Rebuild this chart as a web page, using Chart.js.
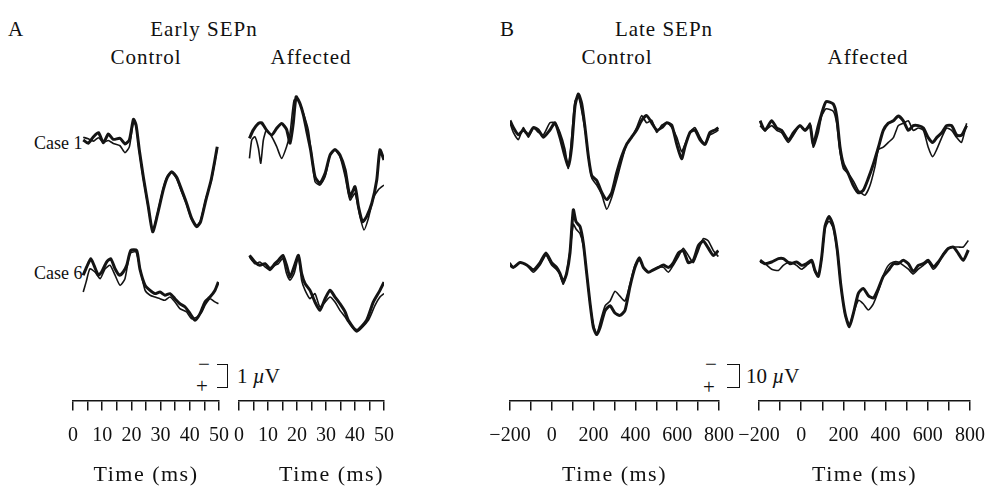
<!DOCTYPE html>
<html>
<head>
<meta charset="utf-8">
<script src="https://cdn.jsdelivr.net/npm/chart.js@4.4.1/dist/chart.umd.min.js"></script>
<style>
  body { margin: 0; background: #fff; }
  #fig { position: relative; width: 996px; height: 488px; overflow: hidden; }
  #fig canvas { position: absolute; }
  .t { position: absolute; font-family: 'Liberation Serif', 'Times New Roman', serif; font-size: 21px;
       line-height: 1; color: #111; white-space: nowrap; }
  .c { transform: translateX(-50%); letter-spacing: 1px; }
  .case { font-size: 18px; }
  .bar { position: absolute; border: 1.5px solid #111; border-left: none; }
</style>
</head>
<body>
<div id="fig">
  <div class="t" style="left:8px;top:19px">A</div>
  <div class="t c" style="left:204px;top:19px">Early SEPn</div>
  <div class="t c" style="left:146px;top:47px">Control</div>
  <div class="t c" style="left:311px;top:47px">Affected</div>
  <div class="t case" style="left:34px;top:134px">Case 1</div>
  <div class="t case" style="left:34px;top:264px">Case 6</div>
  <div class="t" style="left:500px;top:19px">B</div>
  <div class="t c" style="left:664px;top:19px">Late SEPn</div>
  <div class="t c" style="left:617px;top:47px">Control</div>
  <div class="t c" style="left:868px;top:47px">Affected</div>

  <div class="t" style="left:198px;top:354px">−</div>
  <div class="t" style="left:196px;top:376px">+</div>
  <div class="bar" style="left:217px;top:364px;width:10px;height:22px"></div>
  <div class="t" style="left:237px;top:366px">1 <i>µ</i>V</div>

  <div class="t" style="left:705px;top:354px">−</div>
  <div class="t" style="left:703px;top:377px">+</div>
  <div class="bar" style="left:727px;top:364px;width:12px;height:22px"></div>
  <div class="t" style="left:746px;top:366px">10 <i>µ</i>V</div>

  <canvas id="earlyControl"></canvas>
  <canvas id="earlyAffected"></canvas>
  <canvas id="lateControl"></canvas>
  <canvas id="lateAffected"></canvas>
</div>
<script>
// tick labels
const earlyTicks = [0, 10, 20, 30, 40, 50];
const lateTicks = [-200, 0, 200, 400, 600, 800];

// [time (ms), amplitude (uV, negative up)]
const earlyControlCase1Thick = [[3.5,0],[5.2,0.14],[7.0,-0.14],[8.7,-0.32],[10.4,0.12],[12.1,-0.26],[13.8,-0.03],[16.1,-0.07],[17.8,0.17],[19.3,0],[20.7,-0.9],[21.6,-0.65],[22.7,0.43],[24.1,1.62],[25.8,2.9],[27.3,3.99],[28.9,3.26],[30.9,2.17],[32.3,1.62],[33.8,1.38],[35.5,1.62],[37.2,2.17],[38.9,2.75],[40.6,3.4],[42.4,3.77],[43.7,3.55],[45.5,2.61],[47.3,1.74],[48.6,0.87],[49.4,0.29]];
const earlyControlCase1Thin = [[3.5,-0.12],[5.2,-0.05],[7.0,0.05],[8.7,-0.1],[10.4,0.1],[12.1,0.02],[13.8,0.15],[16.1,0.25],[17.8,0.55],[19.3,0.3],[20.7,-0.8],[21.6,-0.6],[22.7,0.5],[24.1,1.7],[25.8,2.95],[27.3,3.95],[28.9,3.2],[30.9,2.1],[32.3,1.58],[33.8,1.4],[35.5,1.68],[37.2,2.25],[38.9,2.8],[40.6,3.45],[42.4,3.72],[43.7,3.5],[45.5,2.55],[47.3,1.8],[48.6,0.95],[49.4,0.35]];
const earlyAffectedCase1Thick = [[3.6,-0.07],[4.9,-0.43],[6.7,-0.72],[7.8,-0.75],[9.5,-0.43],[11.3,-0.22],[13.0,-0.51],[14.7,-0.72],[16.4,-0.46],[17.6,0.14],[18.7,-0.72],[19.7,-1.88],[21.0,-1.59],[22.2,-1.09],[23.3,-0.43],[24.7,0.43],[26.2,1.59],[27.9,1.88],[29.7,1.45],[31.4,0.65],[33.1,0.41],[34.8,0.65],[36.6,1.3],[38.3,2.46],[40.0,2.03],[41.2,2.9],[42.6,3.55],[44.0,3.33],[45.8,2.75],[47.5,1.74],[48.6,0.43],[50.0,0.87]];
const earlyAffectedCase1Thin = [[3.6,0.8],[4.4,0],[5.5,-0.14],[6.7,0.36],[7.5,1.01],[8.4,0],[9.5,-0.43],[11.3,-0.14],[13.0,0.29],[14.7,0.8],[16.4,0.29],[17.6,-0.29],[19.0,-1.74],[20.5,-1.74],[22.2,-1.16],[23.9,-0.43],[25.1,0.72],[26.2,1.81],[27.9,1.96],[29.7,1.59],[31.4,0.65],[33.1,0.43],[34.8,0.72],[36.6,1.59],[38.3,2.61],[40.0,2.32],[41.7,3.33],[43.1,3.91],[44.6,3.41],[46.3,2.54],[48.0,2.17],[50.0,1.96]];
const earlyControlCase6Thick = [[3.5,0.14],[4.7,-0.22],[6.1,-0.58],[7.2,-0.29],[8.7,0.14],[9.8,0],[11.5,-0.43],[12.9,-0.58],[14.4,-0.14],[15.9,0.14],[17.2,0],[18.4,-0.29],[19.8,-0.94],[21.8,-0.94],[22.9,-0.14],[24.7,0.58],[26.4,0.8],[28.1,0.94],[29.8,0.87],[31.5,1.01],[33.2,0.94],[34.9,1.16],[36.6,1.38],[38.4,1.52],[40.1,1.81],[41.8,2.1],[43.5,1.81],[45.2,1.3],[46.9,1.09],[48.6,0.8],[49.8,0.43]];
const earlyControlCase6Thin = [[3.5,0.87],[4.5,0.43],[5.8,-0.14],[7.5,0],[9.3,0.29],[11.0,-0.14],[12.7,-0.29],[14.4,0.14],[16.1,0.58],[17.8,0.29],[19.5,-0.8],[21.6,-0.87],[23.2,0],[24.7,0.8],[26.4,1.01],[28.1,1.09],[29.8,1.16],[31.5,1.23],[33.2,1.09],[34.9,1.3],[36.6,1.59],[38.9,1.74],[40.6,2.03],[42.4,1.96],[44.1,1.74],[45.2,1.45],[46.9,1.16],[48.6,1.3],[49.8,1.38]];
const earlyAffectedCase6Thick = [[3.6,-0.07],[5.5,0.22],[7.2,0.36],[9.0,0.29],[10.7,0.51],[12.4,0.29],[13.6,0.14],[15.1,-0.07],[16.4,0.36],[17.6,0.87],[19.0,0.43],[20.5,-0.07],[21.6,0.72],[22.8,1.16],[24.5,1.45],[26.2,1.96],[27.9,2.32],[29.7,1.81],[31.4,1.45],[33.1,1.74],[34.8,2.03],[36.6,2.39],[37.7,2.75],[40.6,3.19],[44.0,2.75],[46.3,1.96],[48.6,1.45],[50.0,1.09]];
const earlyAffectedCase6Thin = [[3.6,0],[5.5,0.29],[7.2,0.22],[9.0,0.43],[10.7,0.58],[12.4,0.36],[13.6,0.29],[15.1,0.07],[16.4,0.72],[17.6,1.01],[19.0,0.72],[20.5,0],[21.6,1.01],[22.8,1.45],[24.5,1.81],[26.2,1.59],[27.9,2.17],[29.7,1.96],[31.4,1.74],[33.1,1.96],[34.8,2.32],[36.6,2.61],[37.7,2.83],[40.6,3.26],[44.6,2.75],[46.9,2.1],[48.6,1.74],[50.0,1.59]];

const lateControlCase1Thick = [[-200,-4],[-184,-1],[-160,2],[-136,0],[-112,2],[-88,-1],[-64,0],[-40,3],[-9,0],[15,-3],[39,3],[63,11],[79,15],[95,7],[111,-10],[127,-15],[143,-11],[159,-1],[175,11],[191,19],[215,21],[239,26],[263,29],[287,26],[310,18],[334,11],[358,6],[382,3],[406,0],[430,-4],[454,-6],[478,-3],[502,0],[526,-1],[550,-3],[574,-2],[598,6],[621,12],[637,7],[661,1],[685,0],[709,4],[733,6],[757,1],[781,0],[797,-1]];
const lateControlCase1Thin = [[-200,-3],[-184,1],[-160,4],[-136,-1],[-112,3],[-88,-1],[-64,1],[-40,2],[-9,-3],[15,-3],[39,1],[63,8],[79,16],[95,3],[111,-12],[127,-14],[143,-8],[159,0],[175,11],[191,20],[215,23],[239,27],[263,33],[287,28],[310,21],[334,13],[358,6],[382,3],[406,-1],[430,-6],[454,-3],[478,-4],[502,1],[526,-2],[550,-3],[574,-1],[598,3],[621,9],[637,6],[661,1],[685,-1],[709,3],[733,6],[757,2],[781,1],[797,0]];
const lateAffectedCase1Thick = [[-195,-3],[-172,1],[-140,-3],[-116,0],[-93,1],[-61,5],[-37,2],[-6,-1],[18,1],[42,-1],[57,7],[81,-1],[97,-6],[118,-11],[152,-10],[168,-5],[184,8],[200,15],[223,19],[247,24],[271,27],[294,26],[318,21],[342,15],[366,8],[389,1],[413,-2],[437,-3],[460,-5],[484,-3],[508,1],[531,-1],[555,-1],[579,0],[602,4],[623,6],[642,4],[666,2],[689,-1],[713,-1],[737,3],[760,3],[784,-1]];
const lateAffectedCase1Thin = [[-195,-1],[-172,1],[-140,-1],[-116,1],[-93,2],[-61,6],[-37,3],[-6,-1],[18,1],[42,-2],[57,8],[81,2],[97,-5],[118,-8],[152,-7],[168,-2],[184,10],[200,17],[223,19],[247,22],[271,26],[302,28],[326,24],[350,16],[366,9],[389,8],[413,6],[437,4],[460,-1],[484,-2],[508,-3],[531,1],[555,0],[579,1],[602,8],[623,12],[642,9],[666,4],[689,0],[713,1],[737,4],[760,6],[784,-2]];
const lateControlCase6Thick = [[-200,0],[-184,1],[-152,-1],[-120,0],[-88,2],[-56,-1],[-28,-5],[-1,-1],[23,1],[39,3.5],[55,7],[71,3.5],[87,-5],[103,-23],[116,-18],[135,-16],[151,-9],[167,3.5],[183,16],[199,26],[215,29],[231,26],[255,19],[279,17],[302,20],[326,21],[350,19],[374,9],[398,1],[419,-3],[438,1],[462,3],[486,2],[510,1],[534,0],[558,1],[582,-1],[606,-5],[629,-6],[653,-1],[677,-2],[701,-8],[725,-10],[749,-7],[773,-4],[797,-6]];
const lateControlCase6Thin = [[-200,-1],[-184,1],[-152,-1],[-120,0],[-88,3],[-56,0],[-28,-4],[-1,0],[23,2],[39,4],[55,8],[71,3],[87,-6],[103,-17],[116,-15],[135,-13],[151,-8],[167,3.5],[183,16],[199,25],[215,29],[231,24],[255,17],[279,15],[302,11],[326,13],[350,15],[374,8],[398,0],[419,-2],[438,1],[462,3],[486,2],[510,1],[534,1],[558,3],[582,0],[606,-3.5],[629,-7],[653,-4],[677,-1],[701,-6],[725,-11],[749,-10],[773,-6],[797,-3.5]];
const lateAffectedCase6Thick = [[-195,-0.7],[-172,0.7],[-140,0],[-108,-1.4],[-85,-1.4],[-53,0.7],[-22,0],[2,1.4],[26,0.7],[50,-0.7],[65,3.5],[81,6],[97,-2],[113,-15],[132,-19],[152,-15],[171,-5],[187,9],[208,21.5],[228,27],[247,21.5],[271,13],[294,11],[318,14],[342,15],[366,11],[389,6],[413,3.5],[437,0.7],[460,0.7],[484,-0.7],[508,0.7],[531,4],[555,1.4],[579,0.7],[602,-0.7],[626,2],[650,0],[673,-3],[697,-5.6],[721,-6.25],[745,-3.5],[768,-0.7],[792,-5]];
const lateAffectedCase6Thin = [[-195,0],[-172,0.7],[-140,3],[-108,3.5],[-85,1.4],[-53,0],[-22,1.4],[2,3],[26,1.4],[50,0],[65,4],[81,6],[97,-1.4],[113,-14],[132,-17],[152,-14],[171,-4],[187,9],[208,22],[228,26],[247,21.5],[271,16],[294,17.4],[318,20],[342,17.4],[366,12],[389,5.6],[413,1.4],[437,0],[460,0],[484,1.4],[508,3],[531,5],[555,3],[579,1.4],[602,0],[626,3],[650,0.7],[673,-3.5],[697,-5.6],[721,-6.25],[745,-6.25],[768,-6.25],[792,-9]];

Chart.defaults.font.family = "'Liberation Serif', 'Times New Roman', serif";
Chart.defaults.font.size = 20;
Chart.defaults.color = '#111';

const INK = '#141414';
const TOP = 80, BOTTOM = 400.6, PAD = 45;

// widen only the axis titles (grid + title layer is drawn after the datasets, see grid.z)
const spacedTitles = {
  id: 'spacedTitles',
  afterDatasetsDraw(chart) { chart.ctx.letterSpacing = '1.5px'; },
  afterDraw(chart) { chart.ctx.letterSpacing = '0px'; }
};

const pts = arr => arr.map(([x, y]) => ({ x, y }));
const minus = v => (v < 0 ? '\u2212' + (-v) : String(v));

function column(id, cfg) {
  const el = document.getElementById(id);
  el.width = cfg.right - cfg.left + 2 * PAD;
  el.height = 428;
  el.style.left = (cfg.left - PAD) + 'px';
  el.style.top = '60px';
  const line = (data, yAxisID, bw) => ({
    data: pts(data), yAxisID, borderColor: INK, borderWidth: bw,
    pointRadius: 0, tension: 0.2, fill: false
  });
  const yRange = base => ({
    display: false, reverse: true,
    min: -(base - TOP) / cfg.pxPerUnit, max: (BOTTOM - base) / cfg.pxPerUnit
  });
  new Chart(el, {
    type: 'line',
    data: {
      datasets: [
        line(cfg.c1[0], 'y1', 3), line(cfg.c1[1], 'y1', 1.6),
        line(cfg.c6[0], 'y6', 3), line(cfg.c6[1], 'y6', 1.6)
      ]
    },
    options: {
      responsive: false, animation: false, events: [],
      layout: { autoPadding: false, padding: { left: PAD, right: PAD, top: TOP - 60, bottom: 0 } },
      plugins: { legend: { display: false }, tooltip: { enabled: false } },
      scales: {
        x: {
          type: 'linear', min: cfg.ticks[0], max: cfg.ticks[cfg.ticks.length - 1],
          ticks: {
            stepSize: cfg.step, autoSkip: false, maxRotation: 0, minRotation: 0, padding: 13,
            color: '#111',
            callback: v => (cfg.ticks.includes(v) ? minus(v) : '')
          },
          grid: { drawOnChartArea: false, drawTicks: true, tickLength: 10, color: INK, lineWidth: 1.5, z: 1 },
          border: { display: true, color: INK, width: 1.5, z: 1 },
          title: {
            display: true, text: 'Time (ms)', align: cfg.titleAlign || 'center',
            font: { size: 22 }, padding: { top: 1, bottom: 0 }, color: '#111'
          }
        },
        y1: yRange(cfg.base[0]),
        y6: yRange(cfg.base[1])
      }
    },
    plugins: [spacedTitles]
  });
}

column('earlyControl', { left: 73, right: 219, ticks: earlyTicks, step: 5, pxPerUnit: 23, base: [140, 272],
  c1: [earlyControlCase1Thick, earlyControlCase1Thin], c6: [earlyControlCase6Thick, earlyControlCase6Thin] });
column('earlyAffected', { left: 239, right: 384, ticks: earlyTicks, step: 5, pxPerUnit: 23, base: [140, 257], titleAlign: 'end',
  c1: [earlyAffectedCase1Thick, earlyAffectedCase1Thin], c6: [earlyAffectedCase6Thick, earlyAffectedCase6Thin] });
column('lateControl', { left: 510, right: 719, ticks: lateTicks, step: 100, pxPerUnit: 2.4, base: [130, 265],
  c1: [lateControlCase1Thick, lateControlCase1Thin], c6: [lateControlCase6Thick, lateControlCase6Thin] });
column('lateAffected', { left: 759, right: 970, ticks: lateTicks, step: 100, pxPerUnit: 2.4, base: [128, 262],
  c1: [lateAffectedCase1Thick, lateAffectedCase1Thin], c6: [lateAffectedCase6Thick, lateAffectedCase6Thin] });
</script>
</body>
</html>
